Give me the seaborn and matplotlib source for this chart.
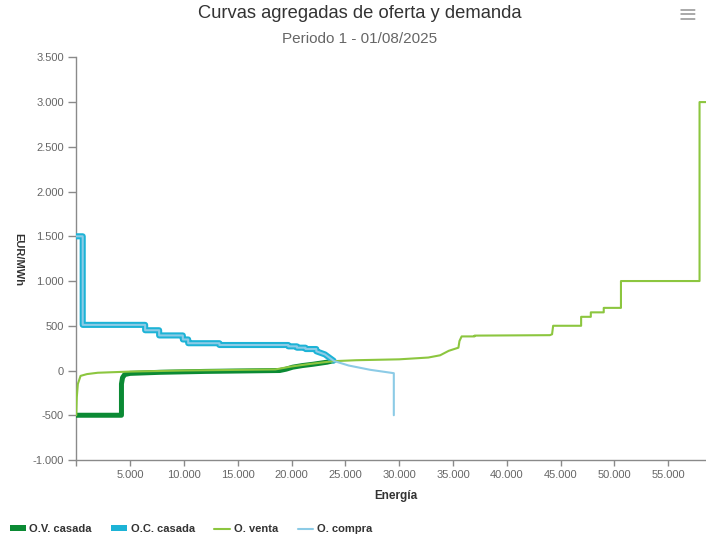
import numpy as np
import pandas as pd
import matplotlib
matplotlib.use("Agg")
import matplotlib.pyplot as plt
from matplotlib.lines import Line2D
from matplotlib.patches import Patch
from matplotlib.ticker import FixedLocator, FuncFormatter
import seaborn as sns

# matched sell curve (O.V. casada)
ov_casada_x = [0, 4200, 4200, 4300, 4500, 5000, 7800, 12000, 18900, 19500, 20100, 21000, 22000, 23300, 23900]
ov_casada_y = [-500, -500, -150, -80, -45, -32, -20, -10, 0, 15, 37, 55, 70, 93, 110]

# matched buy curve (O.C. casada)
oc_casada_x = [0, 600, 600, 6400, 6400, 7700, 7700, 9900, 9900, 10400, 10400, 13300, 13300,
               19700, 19700, 20500, 20500, 21300, 21300, 22300, 22300, 23100, 23900]
oc_casada_y = [1500, 1500, 510, 510, 450, 450, 392, 392, 347, 347, 305, 305, 285,
               285, 270, 270, 255, 255, 240, 240, 215, 180, 110]

# full sell offers (O. venta)
venta_x = [0, 50, 150, 400, 1000, 2000, 5000, 10000, 18500, 20000, 21500, 23000, 24000, 26000,
           30000, 32700, 33800, 34600, 35500, 35600, 35800, 37000, 37000, 44000, 44200, 44300,
           46900, 46900, 47800, 47800, 49000, 49000, 50600, 50600, 57900, 57900, 58500]
venta_y = [-500, -300, -150, -60, -40, -25, -12, 0, 12, 45, 70, 92, 105, 115,
           125, 145, 170, 220, 255, 330, 381, 381, 390, 395, 405, 500,
           500, 600, 600, 650, 650, 700, 700, 1000, 1000, 3000, 3000]

# full buy offers (O. compra)
compra_x = oc_casada_x + [24000, 25300, 27300, 29500, 29500]
compra_y = oc_casada_y + [104, 56, 8, -30, -500]

x_ticks = [0, 5000, 10000, 15000, 20000, 25000, 30000, 35000, 40000, 45000, 50000, 55000]
y_ticks = [-1000, -500, 0, 500, 1000, 1500, 2000, 2500, 3000, 3500]

colors = {"O.V. casada": "#0b8a34", "O.C. casada": "#1db3d6",
          "O. venta": "#8cc63f", "O. compra": "#8ccbe6"}
widths = {"O.V. casada": 3.6, "O.C. casada": 4.4, "O. venta": 1.5, "O. compra": 1.5}

series = [("O.V. casada", ov_casada_x, ov_casada_y),
          ("O.C. casada", oc_casada_x, oc_casada_y),
          ("O. venta", venta_x, venta_y),
          ("O. compra", compra_x, compra_y)]

sns.set_style("white")
plt.rcParams['font.family'] = ['Liberation Sans', 'DejaVu Sans']

fig = plt.figure(figsize=(7.06, 5.39), dpi=100)
ax = fig.add_axes([0.108, 0.1466, 0.892, 0.747])

for name, xs, ys in series:
    df = pd.DataFrame({"x": xs, "y": ys})
    sns.lineplot(data=df, x="x", y="y", ax=ax, sort=False, estimator=None,
                 color=colors[name], linewidth=widths[name], zorder=3)

ax.set_xlim(0, 58500)
ax.set_ylim(-1000, 3500)
ax.set_xlabel("")
ax.set_ylabel("")

fmt = lambda v: f"{int(v):,}".replace(",", ".")
ax.xaxis.set_major_locator(FixedLocator(x_ticks))
ax.xaxis.set_major_formatter(FuncFormatter(lambda v, p: "" if v == 0 else fmt(v)))
ax.yaxis.set_major_locator(FixedLocator(y_ticks))
ax.yaxis.set_major_formatter(FuncFormatter(lambda v, p: fmt(v)))

ax.tick_params(axis='x', direction='out', length=4, width=1, color='#8a8a8a',
               labelsize=8, labelcolor='#666666', pad=3, bottom=True)
ax.tick_params(axis='y', direction='out', length=6, width=1, color='#8a8a8a',
               labelsize=8, labelcolor='#666666', pad=3, left=True)

for side in ['top', 'right']:
    ax.spines[side].set_visible(False)
for side in ['left', 'bottom']:
    ax.spines[side].set_color('#8a8a8a')
    ax.spines[side].set_linewidth(1)

fig.text(0.509, 0.975, "Curvas agregadas de oferta y demanda", ha='center', va='center',
         fontsize=13.2, color='#333333')
fig.text(0.509, 0.928, "Periodo 1 - 01/08/2025", ha='center', va='center',
         fontsize=11, color='#666666')
fig.text(0.974, 0.972, "≡", ha='center', va='center', fontsize=17, color='#aaaaaa',
         family=['DejaVu Sans'])

fig.text(18 / 706, 1 - 260 / 539, "EUR/MWh", rotation=270, ha='center', va='center',
         fontsize=8, fontweight='bold', color='#333333')
fig.text(396 / 706, 1 - 496 / 539, "Energía", ha='center', va='center',
         fontsize=8.5, fontweight='bold', color='#333333')

handles = [Patch(facecolor=colors["O.V. casada"], edgecolor='none'),
           Patch(facecolor=colors["O.C. casada"], edgecolor='none'),
           Line2D([0], [0], color=colors["O. venta"], lw=1.5),
           Line2D([0], [0], color=colors["O. compra"], lw=1.5)]
labels = ["O.V. casada", "O.C. casada", "O. venta", "O. compra"]
leg = fig.legend(handles, labels, loc='center left', bbox_to_anchor=(0.0, 1 - 529 / 539),
                 ncol=4, frameon=False, handlelength=1.4, handleheight=0.45,
                 handletextpad=0.35, columnspacing=1.75,
                 prop={'weight': 'bold', 'size': 8.0})
for t in leg.get_texts():
    t.set_color('#333333')

fig.savefig("out.png", dpi=100)
